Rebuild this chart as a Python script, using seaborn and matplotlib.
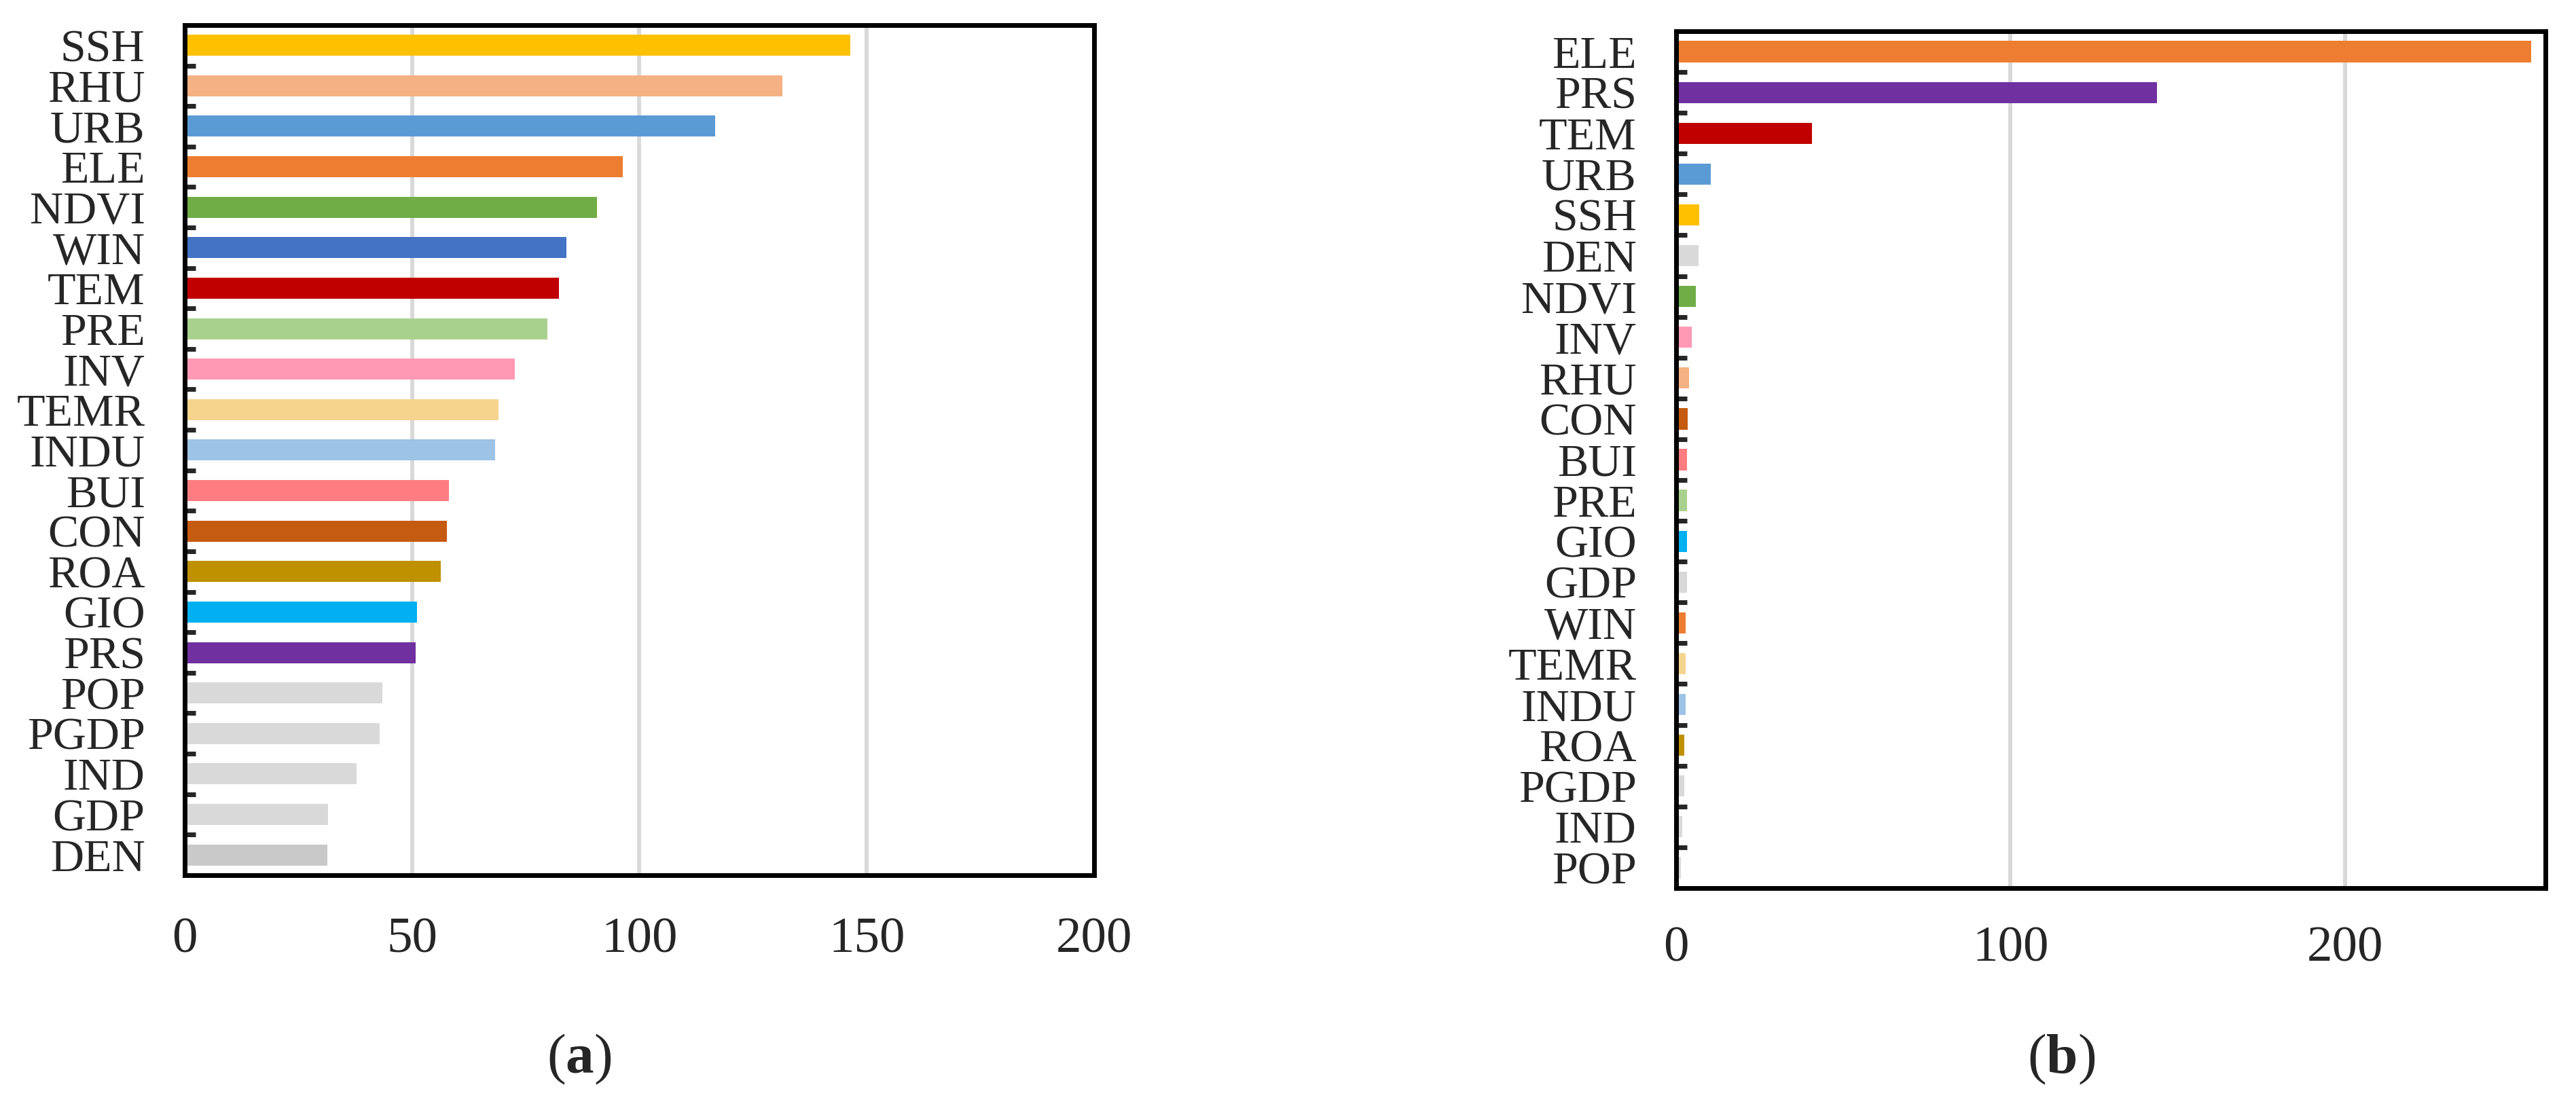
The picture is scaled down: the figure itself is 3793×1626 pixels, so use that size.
import numpy as np
import matplotlib
matplotlib.use('Agg')
import matplotlib.pyplot as plt
import seaborn as sns
from matplotlib.ticker import FixedLocator


# panel (a)
labels_a = ['SSH', 'RHU', 'URB', 'ELE', 'NDVI', 'WIN', 'TEM', 'PRE', 'INV', 'TEMR', 'INDU',
            'BUI', 'CON', 'ROA', 'GIO', 'PRS', 'POP', 'PGDP', 'IND', 'GDP', 'DEN']
values_a = [146.4, 131.5, 116.6, 96.4, 90.7, 83.9, 82.3, 79.7, 72.6, 69.0, 68.3,
            58.1, 57.6, 56.3, 51.1, 50.8, 43.5, 42.9, 37.8, 31.5, 31.3]
colors_a = ['#FFC000', '#F4B183', '#5B9BD5', '#ED7D31', '#70AD47', '#4472C4', '#C00000',
            '#A9D18E', '#FF99B3', '#F5D48E', '#9DC3E6', '#FF7C80', '#C55A11', '#BF9000',
            '#00B0F0', '#7030A0', '#D9D9D9', '#D9D9D9', '#D9D9D9', '#D9D9D9', '#C9C9C9']
ticks_a = [0, 50, 100, 150, 200]

# panel (b)
labels_b = ['ELE', 'PRS', 'TEM', 'URB', 'SSH', 'DEN', 'NDVI', 'INV', 'RHU', 'CON', 'BUI',
            'PRE', 'GIO', 'GDP', 'WIN', 'TEMR', 'INDU', 'ROA', 'PGDP', 'IND', 'POP']
values_b = [255.7, 143.7, 40.7, 10.3, 6.8, 6.6, 5.8, 4.7, 3.9, 3.5, 3.3,
            3.3, 3.3, 3.3, 2.9, 2.9, 2.9, 2.5, 2.5, 1.9, 1.4]
colors_b = ['#ED7D31', '#7030A0', '#C00000', '#5B9BD5', '#FFC000', '#D9D9D9', '#70AD47',
            '#FF99B3', '#F4B183', '#C55A11', '#FF7C80', '#A9D18E', '#00B0F0', '#D9D9D9',
            '#ED7D31', '#F5D48E', '#9DC3E6', '#BF9000', '#D9D9D9', '#D9D9D9', '#D9D9D9']
ticks_b = [0, 100, 200]


def draw_panel(ax, labels, values, colors, ticks, xmax, xpad):
    n = len(labels)
    sns.barplot(x=values, y=labels, hue=labels, palette=dict(zip(labels, colors)),
                legend=False, orient='h', width=0.52, saturation=1, linewidth=0, ax=ax)
    ax.set_xlim(0, xmax)
    ax.set_ylim(n - 0.5, -0.5)
    ax.set_xticks(ticks)
    ax.set_xlabel('')
    ax.set_ylabel('')
    # little ticks between the categories, pointing inwards
    ax.yaxis.set_minor_locator(FixedLocator(np.arange(0.5, n - 1, 1)))
    ax.tick_params(axis='y', which='major', length=0, pad=42, labelsize=49)
    ax.tick_params(axis='y', which='minor', direction='in', length=11.5, width=5, left=True)
    ax.tick_params(axis='x', direction='in', length=16, width=5, pad=xpad, labelsize=54)
    ax.grid(axis='x', color='#D9D9D9', linewidth=4.3)
    ax.grid(axis='y', visible=False)
    ax.set_axisbelow(True)
    for sp in ax.spines.values():
        sp.set_visible(True)
        sp.set_color('black')
        sp.set_linewidth(5)


sns.set_style('white')
plt.rcParams['font.family'] = ['Liberation Serif', 'DejaVu Serif']
plt.rcParams['mathtext.fontset'] = 'custom'
plt.rcParams['mathtext.rm'] = 'Liberation Serif'
plt.rcParams['mathtext.bf'] = 'Liberation Serif:bold'

fig = plt.figure(figsize=(37.93, 16.26), dpi=100)
ax_a = fig.add_axes([0.0717, 0.2073, 0.3530, 0.7700])
ax_b = fig.add_axes([0.6507, 0.1956, 0.3375, 0.7761])

draw_panel(ax_a, labels_a, values_a, colors_a, ticks_a, 200, 45)
draw_panel(ax_b, labels_b, values_b, colors_b, ticks_b, 260, 40)

fig.text(0.2249, 0.0406, r'($\mathbf{a}$)', ha='center', va='center', fontsize=60)
fig.text(0.8002, 0.0406, r'($\mathbf{b}$)', ha='center', va='center', fontsize=60)

fig.savefig('out.png', dpi=100, facecolor='white')
